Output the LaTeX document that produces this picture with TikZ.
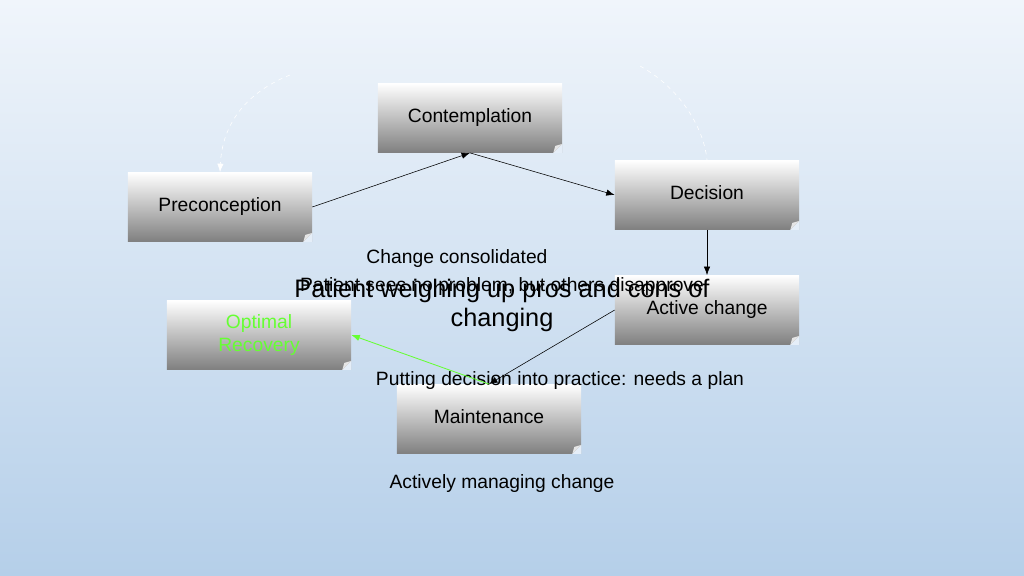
\documentclass[tikz,border=0pt]{standalone}
\usepackage{fontspec}
\setmainfont{Liberation Sans}
\usepackage{tikz}
\usetikzlibrary{
  calc,
  positioning,
  arrows.meta
}
\definecolor{bgtop}{RGB}{240,245,251}
\definecolor{bgmid}{RGB}{212,227,243}
\definecolor{bgbottom}{RGB}{181,207,233}
\definecolor{recovgreen}{RGB}{102,255,51}

\begin{document}
\begin{tikzpicture}[>={Latex[length=6pt,width=4.5pt]}, x=0.025cm, y=-0.025cm]
  \tikzset{
    stage/.style={
      top color=white, middle color=black!14, bottom color=black!50,
      minimum width=4.6cm, minimum height=1.73cm, inner sep=0pt,
      font=\fontsize{13.7}{16.5}\selectfont
    },
    note/.style={inner sep=0pt, font=\fontsize{13.7}{16.5}\selectfont},
    big/.style={inner sep=0pt, align=center, font=\fontsize{18}{20.6}\selectfont},
    cycle arrow/.style={white, dashed, thin},
    % every path/.style={thick},
  }
\fill[top color=bgtop, middle color=bgmid, bottom color=bgbottom] (0,0) rectangle (1024,576);
\useasboundingbox (0,0) rectangle (1024,576);

\node[stage] (contemp) at (470,118) {\raisebox{3pt}{Contemplation}};
\node[stage] (precon) at (220,207) {\raisebox{3pt}{Preconception}};
\node[stage] (decis) at (707,195) {\raisebox{3pt}{Decision}};
\node[stage] (active) at (707,310) {\raisebox{3pt}{Active change}};
\node[stage, text=recovgreen, align=center] (optimal) at (259,335) {Optimal\\Recovery};
\node[stage] (maint) at (489,419) {\raisebox{3pt}{Maintenance}};

% folded corners
\foreach \b in {contemp,precon,decis,active,optimal,maint}{
  \fill[bgmid!60!white] (\b.south east) -- ++(-9,0) -- ++(9,-9) -- cycle;
  \fill[gray!20] ($(\b.south east)+(-9,0)$) -- ($(\b.south east)+(0,-9)$)
    -- ($(\b.south east)+(-7,-7)$) -- cycle;
}

\coordinate (loopl) at (290,75);
\coordinate (loopr) at (640,66);

\draw[cycle arrow, ->] (loopl) .. controls (240,95) and (222,130) .. (precon.north);
\draw[cycle arrow] (loopr) .. controls (680,88) and (704,128) .. (decis.north);

\node[note] (consol) at (457,259) {Change consolidated};
\node[note] (sees) at (502,287) {Patient sees no problem, but others disapprove};
\node[big] (weigh) at (502,305) {Patient weighing up pros and cons of\\changing};
\node[note] (putting) at (560,381) {Putting decision into practice: needs a plan};
\node[note] (managing) at (502,484) {Actively managing change};

\draw[->] (precon.east) -- (contemp.south);
\draw[->] (contemp.south) -- (decis.west);
\draw[->] (decis.south) -- (active.north);
\draw[->] (active.west) -- (maint.north);
\draw[->, recovgreen, semithick] (maint.north) -- (optimal.east);

\end{tikzpicture}
\end{document}
